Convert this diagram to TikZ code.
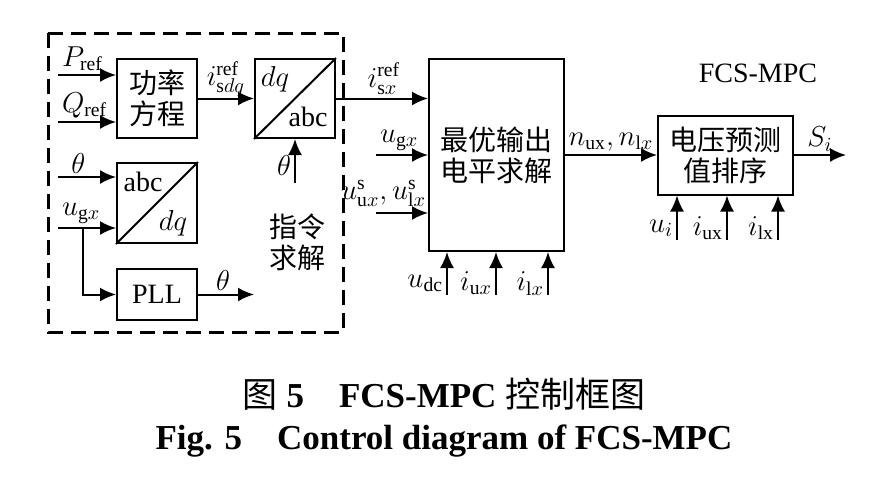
\documentclass[tikz,border=0pt]{standalone}
\usepackage{fontspec}
\setmainfont{Liberation Serif}
\newfontfamily\cjk{Noto Sans CJK SC}
\usetikzlibrary{arrows.meta,positioning}

\begin{document}
\begin{tikzpicture}[
x=0.5pt,y=-0.5pt,
font=\fontsize{14}{15.5}\selectfont,
>={Latex[length=8pt,width=7pt]},
blk/.style={
  draw,
  line width=1pt,
  inner sep=0pt,
  align=center
},
cn/.style={
  font=\fontsize{14}{15.5}\cjk
},
sig/.style={
  ->,
  line width=1pt
},
lbl/.style={
  inner sep=1.5pt
},
capt/.style={
  font=\fontsize{17.5}{20}\selectfont\bfseries
}
]
\useasboundingbox (0,0) rectangle (874,484);

% reference generation part
\draw[line width=1.5pt,dash pattern=on 7.5pt off 4pt] (48,33) rectangle (343,332);

\node[blk,cn,minimum width=40pt,minimum height=39.5pt] (power) at (157,98.5)
  {功率\\方程};
\node[blk,minimum width=40pt,minimum height=39.5pt] (dqabc) at (295,98.5) {};
\node[blk,minimum width=40pt,minimum height=40pt] (abcdq) at (157,203) {};
\node[blk,minimum width=40pt,minimum height=25.5pt] (pll) at (157,294.5)
  {PLL};
\draw[line width=1pt] (dqabc.south west) -- (dqabc.north east);
\draw[line width=1pt] (abcdq.south west) -- (abcdq.north east);
\node (dqtop) at ([shift={(-20,-19.5)}]dqabc.center) {$dq$};
\node (abcbot) at ([shift={(13,18)}]dqabc.center) {abc};
\node (abctop) at ([shift={(-14,-21)}]abcdq.center) {abc};
\node (dqbot) at ([shift={(16,20)}]abcdq.center) {$dq$};
\node[cn,align=center] (cmd) at (297,242.5) {指令\\求解};

\coordinate (pin) at (58,75);
\coordinate (qin) at (58,122);
\coordinate (thin) at (58,177);
\coordinate (ugin) at (58,228);
\coordinate (br) at (83,228);
\coordinate (thout) at (254,294.5);
\coordinate (thup) at (295,183);

\draw[sig] (pin) node[lbl,above right] {$P_{\mathrm{ref}}$} -- (pin -| power.west);
\draw[sig] (qin) node[lbl,above right] {$Q_{\mathrm{ref}}$} -- (qin -| power.west);
\draw[sig] (power) -- node[lbl,above,inner sep=0.5pt] {$i_{\mathrm{s}dq}^{\mathrm{ref}}$} (dqabc);
\draw[sig] (thin) -- node[lbl,above,pos=0.35] {$\theta$} (thin -| abcdq.west);
\draw[sig] (ugin) node[lbl,above right] {$u_{\mathrm{g}x}$} -- (ugin -| abcdq.west);
\draw[sig] (br) |- (pll);
\draw[sig] (pll) -- node[lbl,above,pos=0.45] {$\theta$} (thout);
\draw[sig] (thup) -- node[lbl,left,pos=0.4] {$\theta$} (dqabc.south);

% FCS-MPC part
\node[blk,cn,minimum width=67.5pt,minimum height=96pt] (opt) at (496.5,155)
  {最优输出\\电平求解};
\node[blk,cn,minimum width=67.5pt,minimum height=39.5pt] (sort) at (725.5,155)
  {电压预测\\值排序};
\node (mpc) at (758,73) {FCS-MPC};

\coordinate (ug2) at (376,155);
\coordinate (us) at (376,213);
\coordinate (udc) at (447,295);
\coordinate (iux) at (496,295);
\coordinate (ilx) at (548,295);
\coordinate (sout) at (846,155);
\coordinate (ui) at (677,240);
\coordinate (iux2) at (727,240);
\coordinate (ilx2) at (778,240);

\draw[sig] (dqabc) -- node[lbl,above,pos=0.52] {$i_{\mathrm{s}x}^{\mathrm{ref}}$} (dqabc -| opt.west);
\draw[sig] (ug2) node[lbl,above right] {$u_{\mathrm{g}x}$} -- (opt.west);
\draw[sig] (us) -- (us -| opt.west)
  node[lbl,above left,inner sep=0.5pt,yshift=2pt] {$u_{\mathrm{u}x}^{\mathrm{s}},u_{\mathrm{l}x}^{\mathrm{s}}$};
\draw[sig] (udc) -- node[lbl,left,pos=0.27] {$u_{\mathrm{dc}}$} (udc |- opt.south);
\draw[sig] (iux) -- node[lbl,left,pos=0.27] {$i_{\mathrm{u}x}$} (iux |- opt.south);
\draw[sig] (ilx) -- node[lbl,left,pos=0.27] {$i_{\mathrm{l}x}$} (ilx |- opt.south);

\draw[sig] (opt) -- node[lbl,above] {$n_{\mathrm{ux}},n_{\mathrm{l}x}$} (sort);
\draw[sig] (sort) -- node[lbl,above] {$S_i$} (sout);
\draw[sig] (ui) -- node[lbl,left,pos=0.27] {$u_i$} (ui |- sort.south);
\draw[sig] (iux2) -- node[lbl,left,pos=0.27] {$i_{\mathrm{ux}}$} (iux2 |- sort.south);
\draw[sig] (ilx2) -- node[lbl,left,pos=0.27] {$i_{\mathrm{lx}}$} (ilx2 |- sort.south);

% caption
\node[capt] (cap1) at (444,394) {{\mdseries\cjk 图} 5\quad FCS-MPC {\mdseries\cjk 控制框图}};
\node[capt] (cap2) at (444,441) {Fig. 5\quad Control diagram of FCS-MPC};
\end{tikzpicture}
\end{document}
